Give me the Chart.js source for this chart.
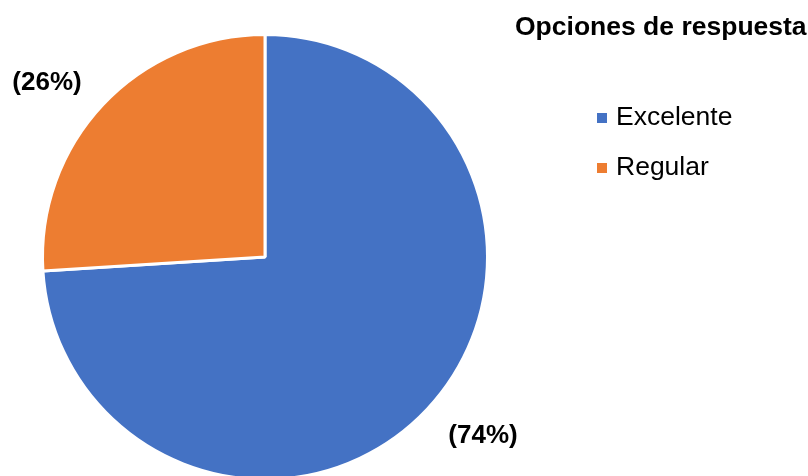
<!DOCTYPE html>
<html>
<head>
<meta charset="utf-8">
<script src="https://cdn.jsdelivr.net/npm/chart.js@4/dist/chart.umd.min.js"></script>
<style>
  html, body { margin: 0; padding: 0; background: #fff; overflow: hidden; }
  #wrap { width: 808px; height: 476px; overflow: hidden; position: relative; }
</style>
</head>
<body>
<div id="wrap"><canvas id="pie" width="808" height="490"></canvas></div>
<script>
let categories = ['Excelente', 'Regular'];
let values = [74, 26];
let labelsTxt = ['(74%)', '(26%)'];
let colors = ['#4472C4', '#ED7D31'];
let chartTitle = 'Opciones de respuesta';

// where the percentage labels sit
let labelPos = [{x: 483, y: 436}, {x: 47, y: 83}];

let font = '"Liberation Sans", Arial, sans-serif';

let extras = {
  id: 'extras',
  afterDraw(chart) {
    let c = chart.ctx;
    c.save();
    c.fillStyle = '#000';
    c.textBaseline = 'middle';

    // title
    c.font = 'bold 26.5px ' + font;
    c.textAlign = 'left';
    c.fillText(chartTitle, 515, 28);

    // legend
    c.font = '26.5px ' + font;
    for (let i = 0; i < categories.length; i++) {
      let y = 118 + i * 50;
      c.fillStyle = colors[i];
      c.fillRect(597, y - 5, 10, 10);
      c.fillStyle = '#000';
      c.fillText(categories[i], 616, y);
    }

    // data labels
    c.font = 'bold 26px ' + font;
    c.textAlign = 'center';
    for (let i = 0; i < labelsTxt.length; i++) {
      c.fillText(labelsTxt[i], labelPos[i].x, labelPos[i].y);
    }
    c.restore();
  }
};

new Chart(document.getElementById('pie'), {
  type: 'pie',
  data: {
    labels: categories,
    datasets: [{
      data: values,
      backgroundColor: colors,
      borderColor: '#ffffff',
      borderWidth: 3
    }]
  },
  options: {
    responsive: false,
    animation: false,
    layout: { padding: { top: 33, bottom: 9, left: 41, right: 319 } },
    plugins: {
      legend: { display: false },
      tooltip: { enabled: false }
    }
  },
  plugins: [extras]
});
</script>
</body>
</html>
